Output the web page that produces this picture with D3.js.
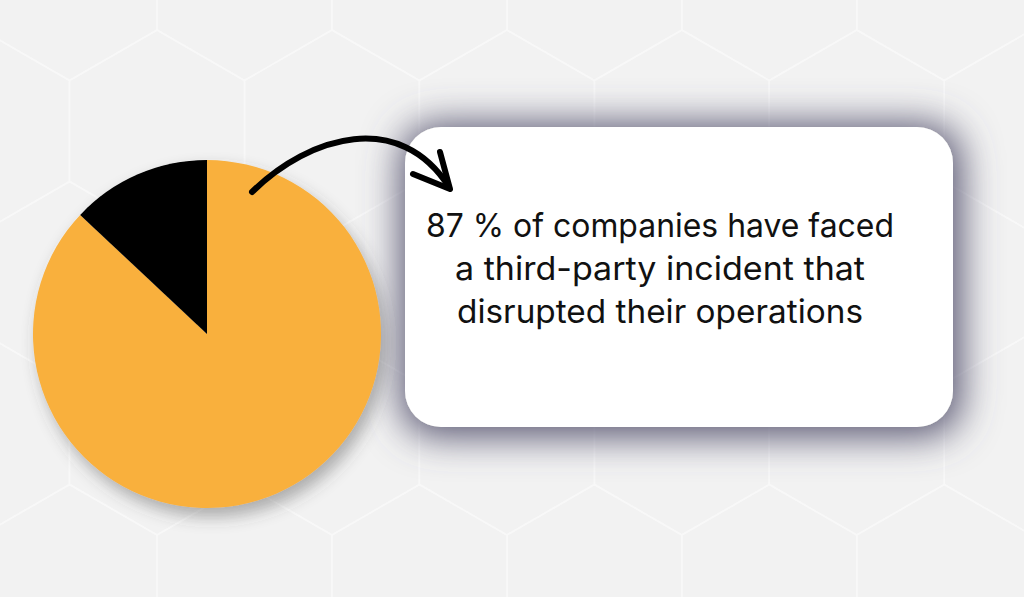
<!DOCTYPE html>
<html>
<head>
<meta charset="utf-8">
<script src="https://cdn.jsdelivr.net/npm/d3@7"></script>
<style>
  html, body { margin: 0; padding: 0; background: #f2f2f2; }
  svg { display: block; }
</style>
</head>
<body>
<svg></svg>
<script>
const svgWidth = 1024
const svgHeight = 597

// pie data
const sliceLabels = ["faced a third-party incident", "did not"]
const sliceValues = [87, 13]
const sliceColors = ["#f9b03c", "#000000"]

// callout text
const calloutLines = [
    "87 % of companies have faced",
    "a third-party incident that",
    "disrupted their operations"
]

const pieCenter = { x: 207, y: 334 }
const pieRadius = 174
const box = { x: 405, y: 127, w: 548, h: 300, r: 36 }

const svg = d3.select("svg")
    .attr("width", svgWidth)
    .attr("height", svgHeight)

const defs = svg.append("defs")

// wide grey-purple glow round the box: grow the shape, blur it, tint it
const boxShadow = defs.append("filter")
    .attr("id", "boxShadow")
    .attr("x", "-30%").attr("y", "-40%")
    .attr("width", "160%").attr("height", "180%")
boxShadow.append("feMorphology")
    .attr("in", "SourceAlpha")
    .attr("operator", "dilate")
    .attr("radius", 6)
    .attr("result", "grown")
boxShadow.append("feGaussianBlur")
    .attr("in", "grown")
    .attr("stdDeviation", 19)
    .attr("result", "blur")
boxShadow.append("feOffset")
    .attr("in", "blur")
    .attr("dx", 2).attr("dy", 3)
    .attr("result", "moved")
boxShadow.append("feFlood")
    .attr("flood-color", "#55536f")
    .attr("flood-opacity", 1)
    .attr("result", "tint")
boxShadow.append("feComposite")
    .attr("in", "tint")
    .attr("in2", "moved")
    .attr("operator", "in")
    .attr("result", "shadow")
const merge = boxShadow.append("feMerge")
merge.append("feMergeNode").attr("in", "shadow")
merge.append("feMergeNode").attr("in", "SourceGraphic")

const pieShadow = defs.append("filter")
    .attr("id", "pieShadow")
    .attr("x", "-20%").attr("y", "-20%")
    .attr("width", "150%").attr("height", "150%")
pieShadow.append("feDropShadow")
    .attr("dx", 5).attr("dy", 9)
    .attr("stdDeviation", 8)
    .attr("flood-color", "#444")
    .attr("flood-opacity", 0.4)

// background
svg.append("rect")
    .attr("width", svgWidth)
    .attr("height", svgHeight)
    .attr("fill", "#f2f2f2")

// hexagon grid (pointy top)
const side = 101
const hexW = Math.sqrt(3) * side
const hexPath = (cx, cy) => {
    const pts = d3.range(6).map((i) => {
        const a = Math.PI / 180 * (60 * i - 90)
        return [cx + side * Math.cos(a), cy + side * Math.sin(a)]
    })
    return "M" + pts.join("L") + "Z"
}
const hexCenters = []
for (let row = -1; row < 5; row++) {
    const cy = 131 + row * 1.5 * side
    const x0 = (row % 2 === 0) ? 157 : 157 - hexW / 2
    for (let col = -2; col < 8; col++) {
        hexCenters.push([x0 + col * hexW, cy])
    }
}
svg.append("g")
    .selectAll("path")
    .data(hexCenters)
    .join("path")
    .attr("d", (d) => hexPath(d[0], d[1]))
    .attr("fill", "none")
    .attr("stroke", "#f8f8f8")
    .attr("stroke-width", 1.5)

// callout box
svg.append("rect")
    .attr("x", box.x)
    .attr("y", box.y)
    .attr("width", box.w)
    .attr("height", box.h)
    .attr("rx", box.r)
    .attr("fill", "#ffffff")
    .attr("filter", "url(#boxShadow)")

// widths of each line
const lineWidths = [468, 410, 406]

svg.append("g")
    .attr("font-family", "Inter, 'Noto Sans', sans-serif")
    .attr("fill", "#111")
    .attr("text-anchor", "middle")
    .selectAll("text")
    .data(calloutLines)
    .join("text")
    .text((d) => d)
    .attr("x", 660)
    .attr("y", (d, i) => 237 + i * 43)
    .attr("font-size", 33)
    .attr("textLength", (d, i) => lineWidths[i])
    .attr("lengthAdjust", "spacingAndGlyphs")

// pie
const pie = d3.pie().sort(null).value((d) => d)
const arc = d3.arc().innerRadius(0).outerRadius(pieRadius)

svg.append("g")
    .attr("transform", `translate(${pieCenter.x},${pieCenter.y})`)
    .attr("filter", "url(#pieShadow)")
    .selectAll("path")
    .data(pie(sliceValues))
    .join("path")
    .attr("d", arc)
    .attr("fill", (d, i) => sliceColors[i])
    .append("title")
    .text((d, i) => sliceLabels[i] + ": " + d.data + "%")

// hand drawn arrow from pie to box
svg.append("path")
    .attr("d", "M252,192 C310,135 400,110 449,187")
    .attr("fill", "none")
    .attr("stroke", "#000")
    .attr("stroke-width", 6)
    .attr("stroke-linecap", "round")

svg.append("path")
    .attr("d", "M440,152 L450,189 L413,174")
    .attr("fill", "none")
    .attr("stroke", "#000")
    .attr("stroke-width", 6)
    .attr("stroke-linecap", "round")
    .attr("stroke-linejoin", "round")
</script>
</body>
</html>
